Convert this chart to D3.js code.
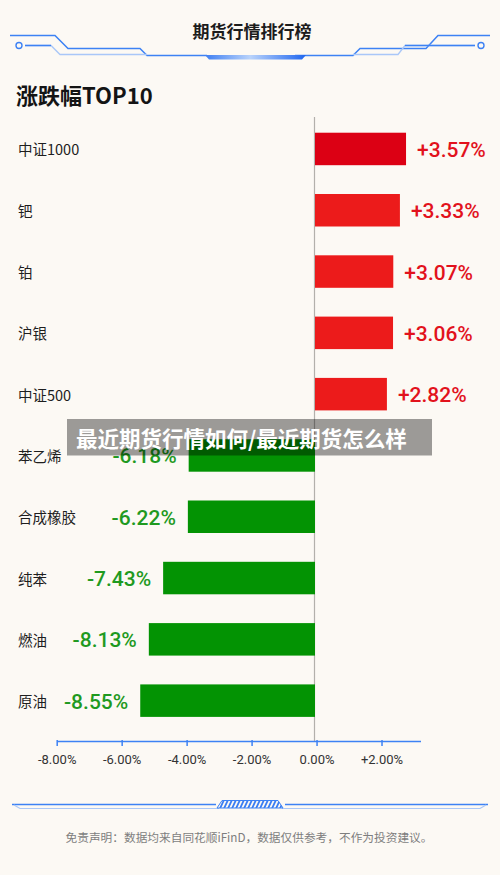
<!DOCTYPE html>
<html>
<head>
<meta charset="utf-8">
<script src="https://cdn.jsdelivr.net/npm/d3@7"></script>
<style>
html,body{margin:0;padding:0;background:#fcf9f4;}
svg{display:block;}
</style>
</head>
<body>
<div id="chart"></div>
<script>
// ---- data ----
const categories = ["中证1000","钯","铂","沪银","中证500","苯乙烯","合成橡胶","纯苯","燃油","原油"];
const changes = [3.57, 3.33, 3.07, 3.06, 2.82, -6.18, -6.22, -7.43, -8.13, -8.55];
const tickValues = [-8, -6, -4, -2, 0, 2];
const headerTitle = "期货行情排行榜";
const chartTitle = "涨跌幅TOP10";
const bannerText = "最近期货行情如何/最近期货怎么样";
const footerText = "免责声明：数据均来自同花顺iFinD，数据仅供参考，不作为投资建议。";

const W = 500, H = 875;
const svg = d3.select("#chart").append("svg").attr("width", W).attr("height", H);
svg.append("rect").attr("width", W).attr("height", H).attr("fill", "#fcf9f4");

const defs = svg.append("defs");
const g1 = defs.append("linearGradient").attr("id","hdrGrad").attr("x1","0%").attr("x2","100%");
g1.append("stop").attr("offset","0%").attr("stop-color","#3f7ff2");
g1.append("stop").attr("offset","45%").attr("stop-color","#b9d3fb");
g1.append("stop").attr("offset","100%").attr("stop-color","#1f66ef");
const pat = defs.append("pattern").attr("id","hatch").attr("patternUnits","userSpaceOnUse")
  .attr("width",4).attr("height",8).attr("patternTransform","skewX(-25)");
pat.append("rect").attr("width",4).attr("height",8).attr("fill","#fcf9f4");
pat.append("rect").attr("width",2).attr("height",8).attr("fill","#3b7ef3");

const blue = "#3d82f4", lightBlue = "#a9c7f8";

// ---- header ----
svg.append("text").attr("x", 252).attr("y", 30).attr("text-anchor","middle")
  .attr("dominant-baseline","central")
  .style("font-family","'Noto Sans CJK SC'").style("font-size","17px").style("font-weight","700")
  .attr("fill","#1c1c1c").text(headerTitle);

const line = d3.line();
function deco(pts, color, w){ svg.append("path").attr("d", line(pts)).attr("fill","none").attr("stroke", color).attr("stroke-width", w); }
// left
deco([[10,35.5],[55,35.5],[68,48.5],[140,48.5],[147,55.5],[207,55.5]], blue, 1.5);
deco([[25,45.5],[51,45.5],[60,54.5],[147,54.5]], lightBlue, 1.3);
deco([[25,45.5],[51,45.5]], blue, 1.5);
svg.append("circle").attr("cx",19).attr("cy",45.5).attr("r",3).attr("fill","none").attr("stroke",blue).attr("stroke-width",1.4);
// right (mirror)
deco([[490,35.5],[438,35.5],[426,48.5],[360,48.5],[353,55.5],[295,55.5]], blue, 1.5);
deco([[475,45.5],[405,45.5],[398,54.5],[353,54.5]], lightBlue, 1.3);
deco([[475,45.5],[405,45.5]], blue, 1.5);
svg.append("circle").attr("cx",481).attr("cy",45.5).attr("r",3).attr("fill","none").attr("stroke",blue).attr("stroke-width",1.4);
// centre gradient piece
svg.append("path").attr("d", line([[205,55],[306,55],[302,59.5],[209,59.5]])+"Z").attr("fill","url(#hdrGrad)");

// ---- chart title ----
svg.append("text").attr("x", 16).attr("y", 104)
  .style("font-family","'Noto Sans CJK SC'").style("font-size","22px").style("font-weight","700")
  .attr("fill","#141414").text(chartTitle);

// ---- scales ----
const zeroX = 315;
const y = d3.scaleBand().domain(categories).range([103.9, 745.7]).paddingInner(0.47).paddingOuter(0.47);
// bar length scale (as drawn in the picture)
const barX = d3.scaleLinear().domain([-10, 0, 4]).range([zeroX - 10*20.44, zeroX, zeroX + 4*25.5]);
// axis scale
const axX = d3.scaleLinear().domain([-8, 3.2]).range([56.7, 420.5]);

// zero line
svg.append("line").attr("x1", 314.5).attr("x2", 314.5).attr("y1", 117).attr("y2", 741)
  .attr("stroke", "#b3b0ab").attr("stroke-width", 1.2);

const data = categories.map((c,i)=>({c, v: changes[i], i}));

// bars
svg.append("g").selectAll("rect").data(data).join("rect")
  .attr("x", d => Math.min(barX(d.v), barX(0)))
  .attr("width", d => Math.abs(barX(d.v) - barX(0)))
  .attr("y", d => y(d.c))
  .attr("height", y.bandwidth())
  .attr("fill", d => d.v >= 0 ? (d.i === 0 ? "#dc0014" : "#ec1b1b") : "#039303");

// category labels
svg.append("g").selectAll("text").data(data).join("text")
  .attr("x", 18).attr("y", d => y(d.c) + y.bandwidth()/2)
  .attr("dominant-baseline","central")
  .style("font-family","'Noto Sans CJK SC'").style("font-size","14.5px")
  .attr("fill","#1e1e1e").text(d => d.c);

// value labels
const fmtV = v => (v >= 0 ? "+" : "-") + Math.abs(v).toFixed(2) + "%";
svg.append("g").selectAll("text").data(data).join("text")
  .attr("x", d => d.v >= 0 ? barX(d.v) + 11 : barX(d.v) - 12)
  .attr("y", d => y(d.c) + y.bandwidth()/2 + 1)
  .attr("text-anchor", d => d.v >= 0 ? "start" : "end")
  .attr("dominant-baseline","central")
  .style("font-family","Roboto").style("font-size","21px").style("font-weight","500")
  .attr("fill", d => d.v >= 0 ? "#e2121c" : "#1f9a1f")
  .text(d => fmtV(d.v));

// axis
const fmtT = v => (v > 0 ? "+" : (v < 0 ? "-" : "")) + Math.abs(v).toFixed(2) + "%";
const axG = svg.append("g").attr("transform","translate(0,741)")
  .call(d3.axisBottom(axX).tickValues(tickValues).tickFormat(fmtT).tickSizeInner(5).tickSizeOuter(0).tickPadding(9));
axG.select(".domain").attr("stroke", blue).attr("stroke-width", 1.5);
axG.selectAll(".tick line").attr("stroke", blue).attr("stroke-width", 1.5).attr("y1", -1).attr("y2", 5);
axG.selectAll(".tick text").attr("fill","#333").style("font-family","Roboto").style("font-size","13px");

// ---- footer deco ----
deco([[12,804.5],[216,804.5]], blue, 1.5);
deco([[14,805],[20,808.5],[219,808.5]], lightBlue, 1.2);
deco([[285,804.5],[488,804.5]], blue, 1.5);
deco([[282,808.5],[480,808.5],[486,805]], lightBlue, 1.2);
svg.append("path").attr("d", line([[222,800.5],[278,800.5],[283,808],[217,808]])+"Z")
  .attr("fill","url(#hatch)").attr("stroke", blue).attr("stroke-width",1);

svg.append("text").attr("x", 249).attr("y", 836).attr("text-anchor","middle")
  .attr("dominant-baseline","central")
  .style("font-family","'Noto Sans CJK SC'").style("font-size","11.7px")
  .attr("fill","#7e7e7e").text(footerText);

// ---- overlay banner ----
svg.append("rect").attr("x", 67).attr("y", 419).attr("width", 365).attr("height", 36.5)
  .attr("fill","rgba(0,0,0,0.38)");
svg.append("text").attr("x", 76).attr("y", 437.5).attr("dominant-baseline","central")
  .style("font-family","'Noto Sans CJK SC'").style("font-size","21.5px").style("font-weight","700")
  .attr("fill","#ffffff").text(bannerText);
</script>
</body>
</html>
